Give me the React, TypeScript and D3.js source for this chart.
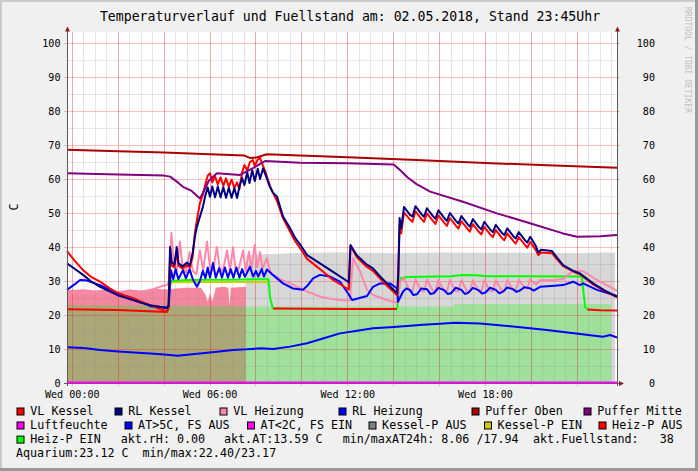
import React from "react";
import * as d3 from "d3";

type Pt = [number, number];

// time in hours from Wed 00:00, value in C
const pufferOben: Pt[] = [
  [-0.23, 68.6], [2, 68.2], [4, 67.8], [6, 67.3], [7.5, 66.9], [7.74, 66.2], [8.0, 66.3],
  [8.3, 66.9], [8.48, 67.3], [9.92, 66.9], [12, 66.4], [15, 65.6], [18, 64.7], [21, 64.0], [23.73, 63.3],
];

const pufferMitte: Pt[] = [
  [-0.23, 61.7], [2, 61.3], [4, 61.0], [4.26, 60.7], [4.6, 59.0], [4.82, 57.7], [5.2, 56.5],
  [5.56, 54.3], [5.69, 55.9], [5.95, 59.5], [6.3, 61.7], [7.31, 61.2], [7.87, 63.2], [8.4, 65.3],
  [9.92, 64.8], [12, 64.6], [14.0, 64.3], [14.3, 62.5], [14.6, 60.5], [15.0, 58.5], [15.59, 56.3],
  [17.02, 53.3], [18.5, 49.9], [19.94, 47.0], [21.38, 44.0], [21.99, 43.0], [23.0, 43.2], [23.73, 43.5],
];

const rlKessel: Pt[] = [
  [-0.23, 35.2], [0.1, 33.6], [0.47, 31.8], [0.8, 30.0], [1.21, 28.3], [1.6, 27.0], [1.95, 25.9],
  [2.3, 25.1], [2.64, 24.4], [3.0, 23.6], [3.39, 22.9], [3.8, 22.4], [4.13, 22.0], [4.2, 23.0],
  [4.26, 40.0], [4.33, 35.5], [4.45, 34.8], [4.55, 40.0], [4.63, 35.2], [4.8, 34.3], [5.0, 35.4],
  [5.12, 34.6], [5.24, 38.0], [5.34, 43.0], [5.43, 46.0], [5.56, 48.9], [5.69, 51.8], [5.8, 55.3],
  [5.9, 57.5], [6.0, 54.8], [6.1, 57.8], [6.22, 54.6], [6.34, 57.8], [6.46, 54.6], [6.58, 57.6],
  [6.7, 54.5], [6.82, 57.4], [6.94, 54.5], [7.06, 57.3], [7.18, 54.4], [7.28, 57.8], [7.4, 60.3],
  [7.5, 58.2], [7.62, 62.0], [7.72, 58.8], [7.84, 62.6], [7.95, 59.4], [8.08, 63.0], [8.18, 60.0],
  [8.31, 63.1], [8.42, 61.2], [8.61, 57.7], [8.74, 56.0], [8.92, 54.8], [9.18, 49.0], [9.49, 45.5],
  [9.7, 42.8], [9.92, 40.8], [10.23, 37.6], [10.79, 35.2], [11.36, 32.7], [11.97, 30.0], [12.05, 29.6],
  [12.12, 40.6], [12.4, 37.5], [12.8, 35.0], [13.1, 33.7], [13.4, 31.4], [13.71, 29.3], [14.15, 26.4],
  [14.2, 32.0], [14.26, 48.5], [14.33, 45.5], [14.45, 51.8], [14.72, 49.4], [14.82, 49.0], [14.95, 52.0],
  [15.22, 49.6], [15.32, 48.9], [15.45, 51.4], [15.72, 49.0], [15.82, 48.3], [15.95, 50.8], [16.22, 48.4],
  [16.32, 47.7], [16.45, 50.0], [16.72, 47.6], [16.82, 46.9], [16.95, 49.1], [17.22, 46.7], [17.32, 46.0],
  [17.45, 48.2], [17.72, 45.8], [17.82, 45.2], [17.95, 47.4], [18.22, 45.0], [18.32, 44.4], [18.45, 46.5],
  [18.72, 44.1], [18.82, 43.5], [18.95, 45.5], [19.22, 43.1], [19.32, 42.5], [19.45, 44.4], [19.72, 42.0],
  [19.82, 41.3], [19.95, 43.0], [20.2, 40.2], [20.3, 38.4], [20.42, 39.2], [20.9, 38.8], [21.1, 37.0],
  [21.38, 34.7], [21.82, 33.0], [22.12, 32.2], [22.69, 29.3], [23.2, 27.2], [23.73, 25.4],
];

const vlKessel: Pt[] = [
  [-0.23, 38.8], [0.1, 36.0], [0.47, 33.2], [0.8, 31.3], [1.21, 29.8], [1.6, 28.0], [1.95, 26.6],
  [2.3, 25.7], [2.64, 25.0], [3.0, 23.9], [3.39, 22.9], [3.8, 21.8], [4.13, 21.0], [4.2, 22.0],
  [4.26, 38.5], [4.33, 34.5], [4.45, 34.0], [4.55, 38.5], [4.63, 34.5], [4.8, 33.6], [5.0, 34.6],
  [5.12, 34.0], [5.24, 37.0], [5.34, 44.0], [5.43, 48.0], [5.56, 52.9], [5.69, 55.5], [5.8, 58.5],
  [5.9, 61.0], [6.0, 61.7], [6.1, 59.0], [6.22, 60.8], [6.34, 58.4], [6.46, 60.5], [6.58, 58.0],
  [6.7, 60.2], [6.82, 57.7], [6.94, 59.8], [7.06, 57.4], [7.18, 59.0], [7.28, 57.0], [7.4, 62.0],
  [7.5, 64.1], [7.62, 62.5], [7.74, 65.0], [7.87, 65.6], [7.95, 63.8], [8.08, 65.8], [8.18, 66.2],
  [8.3, 64.0], [8.42, 62.0], [8.61, 58.0], [8.74, 56.0], [8.92, 53.5], [9.18, 48.5], [9.49, 44.5],
  [9.7, 41.8], [9.92, 39.7], [10.23, 36.5], [10.79, 33.5], [11.36, 30.3], [11.97, 27.8], [12.05, 27.5],
  [12.12, 40.2], [12.4, 37.0], [12.8, 34.3], [13.1, 33.0], [13.4, 30.8], [13.71, 28.6], [14.15, 25.8],
  [14.2, 30.0], [14.26, 46.5], [14.33, 44.0], [14.45, 50.2], [14.72, 48.0], [14.82, 47.4], [14.95, 50.5],
  [15.22, 48.2], [15.32, 47.4], [15.45, 49.9], [15.72, 47.6], [15.82, 46.8], [15.95, 49.3], [16.22, 47.0],
  [16.32, 46.2], [16.45, 48.5], [16.72, 46.2], [16.82, 45.4], [16.95, 47.6], [17.22, 45.3], [17.32, 44.5],
  [17.45, 46.7], [17.72, 44.4], [17.82, 43.7], [17.95, 45.9], [18.22, 43.6], [18.32, 42.9], [18.45, 45.0],
  [18.72, 42.7], [18.82, 42.0], [18.95, 44.0], [19.22, 41.7], [19.32, 41.0], [19.45, 42.9], [19.72, 40.6],
  [19.82, 39.8], [19.95, 41.5], [20.2, 39.0], [20.3, 37.6], [20.42, 38.4], [20.9, 38.2], [21.1, 36.5],
  [21.38, 34.4], [21.82, 32.8], [22.12, 32.0], [22.69, 29.0], [23.2, 27.0], [23.73, 25.2],
];

const vlHeizung: Pt[] = [
  [-0.23, 26.6], [1.0, 26.5], [2.0, 26.3], [3.0, 26.6], [3.5, 27.5], [3.9, 28.5], [4.13, 28.8],
  [4.22, 30.0], [4.32, 44.2], [4.42, 35.0], [4.55, 33.0], [4.69, 41.6], [4.8, 34.0], [4.95, 32.5],
  [5.11, 38.5], [5.25, 33.0], [5.4, 32.0], [5.56, 39.0], [5.7, 33.0], [5.87, 41.6], [6.0, 34.0],
  [6.13, 33.0], [6.3, 40.0], [6.43, 33.5], [6.56, 33.0], [6.74, 39.0], [6.87, 33.0], [7.0, 40.0],
  [7.12, 33.0], [7.25, 33.5], [7.44, 39.0], [7.55, 33.0], [7.7, 38.6], [7.8, 33.5], [7.95, 40.6],
  [8.05, 34.0], [8.18, 38.5], [8.28, 33.5], [8.48, 36.8], [8.61, 33.0], [8.74, 31.8], [9.1, 30.4],
  [9.49, 29.3], [9.9, 28.0], [10.23, 26.9], [10.6, 25.9], [10.92, 25.2], [11.4, 24.6], [11.97, 24.2],
  [12.1, 24.5], [12.23, 36.7], [12.54, 32.7], [12.84, 27.4], [13.1, 25.9], [13.71, 24.4], [14.15, 23.6],
  [14.28, 29.8], [14.45, 30.9], [14.7, 27.0], [14.82, 26.9], [14.95, 30.5], [15.2, 27.2], [15.32, 26.9],
  [15.45, 30.4], [15.7, 27.2], [15.82, 26.9], [15.95, 30.3], [16.2, 27.1], [16.32, 26.9], [16.45, 30.3],
  [16.7, 27.0], [16.82, 26.9], [16.95, 30.2], [17.2, 27.0], [17.32, 26.9], [17.45, 30.2], [17.7, 27.0],
  [17.82, 26.9], [17.95, 30.2], [18.2, 27.1], [18.32, 27.0], [18.45, 30.3], [18.7, 27.2], [18.82, 27.0],
  [18.95, 30.3], [19.2, 27.4], [19.32, 27.2], [19.45, 30.4], [19.7, 28.0], [19.82, 27.8], [19.95, 30.5],
  [20.2, 29.0], [20.4, 30.3], [20.9, 30.2], [21.38, 30.6], [21.82, 33.0], [22.25, 32.9], [22.86, 30.3],
  [23.43, 28.3], [23.73, 27.1],
];

const rlHeizung: Pt[] = [
  [-0.23, 27.4], [0.1, 29.0], [0.34, 30.3], [0.6, 30.2], [1.21, 28.8], [1.95, 26.4], [2.64, 24.9],
  [3.39, 22.6], [4.13, 22.2], [4.2, 22.5], [4.3, 33.2], [4.4, 30.5], [4.5, 33.5], [4.62, 30.5],
  [4.82, 33.2], [4.95, 30.8], [5.11, 33.5], [5.25, 30.5], [5.43, 28.3], [5.56, 30.0], [5.69, 33.0],
  [5.8, 30.8], [5.9, 34.0], [6.0, 31.0], [6.13, 35.3], [6.25, 31.0], [6.4, 33.8], [6.52, 31.0],
  [6.65, 34.0], [6.78, 31.0], [6.9, 33.5], [7.02, 31.0], [7.15, 34.0], [7.28, 31.0], [7.4, 33.5],
  [7.52, 31.2], [7.74, 34.2], [7.88, 31.3], [8.0, 33.0], [8.1, 31.3], [8.25, 33.5], [8.35, 31.3],
  [8.48, 33.4], [8.74, 31.8], [9.18, 29.3], [9.62, 27.8], [10.05, 27.4], [10.23, 28.5], [10.49, 30.8],
  [10.79, 31.8], [11.23, 31.3], [11.66, 29.8], [12.01, 26.4], [12.19, 24.4], [12.84, 25.6], [13.1, 28.3],
  [13.41, 29.3], [13.84, 29.3], [14.15, 27.8], [14.19, 23.9], [14.41, 26.9], [14.55, 27.8], [14.71, 27.4],
  [14.85, 25.9], [15.02, 26.1], [15.2, 27.8], [15.45, 27.6], [15.6, 26.2], [15.75, 26.4], [15.95, 28.0],
  [16.2, 27.3], [16.35, 26.2], [16.5, 26.4], [16.7, 28.0], [16.95, 27.4], [17.1, 26.2], [17.25, 26.5],
  [17.45, 28.0], [17.7, 27.3], [17.85, 26.3], [18.0, 26.6], [18.2, 28.0], [18.45, 27.4], [18.6, 26.4],
  [18.75, 26.8], [18.95, 28.1], [19.2, 27.6], [19.35, 26.8], [19.5, 27.2], [19.7, 28.2], [19.95, 27.8],
  [20.1, 27.2], [20.38, 28.3], [21.0, 28.6], [21.38, 28.8], [21.82, 29.8], [22.12, 28.8], [22.25, 29.3],
  [22.86, 27.4], [23.73, 25.6],
];

const aussenTemp: Pt[] = [
  [-0.23, 10.5], [0.5, 10.3], [1.21, 9.7], [2, 9.3], [3.39, 8.7], [4.0, 8.4], [4.6, 8.0], [5.0, 8.3],
  [5.56, 8.7], [6.3, 9.2], [7.0, 9.7], [7.6, 9.9], [8.2, 10.2], [8.74, 10.0], [9.49, 10.7], [10.23, 11.7],
  [10.92, 13.1], [11.66, 14.6], [12.41, 15.4], [13.1, 16.1], [13.84, 16.4], [14.59, 16.8], [15.28, 17.1],
  [16.02, 17.4], [16.68, 17.7], [17.76, 17.5], [19.2, 16.6], [20.68, 15.6], [22.12, 14.4], [23.12, 13.6],
  [23.43, 14.1], [23.73, 13.4],
];

const luftfeuchte: Pt[] = [[-0.23, 0], [23.73, 0]];

const heizPEin1: Pt[] = [
  [4.15, 21.0], [4.22, 27.0], [4.3, 30.0], [5, 30.3], [6, 30.4], [7, 30.4], [8, 30.5], [8.55, 30.5],
  [8.62, 25.0], [8.74, 22.0],
];
const heizPEin2: Pt[] = [
  [14.15, 21.8], [14.22, 27.0], [14.3, 30.8], [14.6, 31.2], [16.5, 31.4], [17, 31.8], [17.6, 31.7],
  [18, 31.4], [20, 31.4], [22.2, 31.3], [22.28, 26.0], [22.35, 22.2], [22.43, 21.8],
];
const heizPAus1: Pt[] = [[-0.23, 21.7], [2, 21.5], [4.15, 20.9]];
const heizPAus2: Pt[] = [[8.74, 21.9], [12, 21.8], [14.15, 21.8]];
const heizPAus3: Pt[] = [[22.43, 21.6], [23, 21.4], [23.73, 21.3]];
const kesselPEin1: Pt[] = [[4.3, 29.6], [6, 29.7], [8.55, 29.7]];

// filled areas
const pinkArea: Pt[] = [
  [-0.23, 27.3], [0.5, 27.6], [1, 27.2], [1.5, 27.5], [2, 27.0], [2.5, 27.5], [3, 27.2], [3.5, 27.8],
  [4.0, 27.5], [4.5, 27.8], [5, 28.0], [5.6, 28.0], [5.8, 26.0], [5.9, 24.0], [6.0, 26.5], [6.1, 24.0],
  [6.25, 28.0], [6.6, 28.3], [6.8, 28.0], [6.85, 22.5], [6.9, 28.0], [7.57, 28.3],
];
const oliveArea: Pt[] = [[-0.23, 22.9], [3, 22.8], [6.5, 22.7], [7.57, 22.6]];
const grayArea: Pt[] = [
  [7.57, 37.5], [8, 37.8], [9, 38.0], [10, 38.3], [12, 38.4], [14, 38.2], [16, 38.4], [18, 38.3],
  [20, 38.3], [22, 38.2], [23, 38.4], [23.65, 38.3],
];
const greenArea: Pt[] = [[7.57, 22.5], [12, 22.5], [16.6, 22.5], [16.65, 23.2], [20, 23.2], [23.47, 23.2]];

const yTicks = [0, 10, 20, 30, 40, 50, 60, 70, 80, 90, 100];
const yMinorTicks = [5, 15, 25, 35, 45, 55, 65, 75, 85, 95];
const xLabelHours = [0, 6, 12, 18];
const xLabels = ["Wed 00:00", "Wed 06:00", "Wed 12:00", "Wed 18:00"];

const legendRow1 = ["VL Kessel", "RL Kessel", "VL Heizung", "RL Heizung", "Puffer Oben", "Puffer Mitte"];
const legendRow1Colors = ["#ff0000", "#000080", "#ff88aa", "#0000ff", "#aa0000", "#800080"];
const legendRow2 = ["Luftfeuchte", "AT>5C, FS AUS", "AT<2C, FS EIN", "Kessel-P AUS", "Kessel-P EIN", "Heiz-P AUS"];
const legendRow2Colors = ["#ff00ff", "#0000ff", "#ff00ff", "#808080", "#cccc00", "#ff0000"];
const legendRow3 = ["Heiz-P EIN"];
const legendRow3Colors = ["#00ff00"];
const statusRow3 = ["akt.rH: 0.00", "akt.AT:13.59 C", "min/maxAT24h: 8.06 /17.94", "akt.Fuellstand:   38"];
const statusRow4 = ["Aquarium:23.12 C", "min/max:22.40/23.17"];

const W = 698;
const H = 471;
const FONT = "'DejaVu Sans Mono', monospace";

export default function App() {
  const x = d3.scaleLinear().domain([-0.23, 23.73]).range([67, 617]);
  const y = d3.scaleLinear().domain([0, 103.3]).range([383, 31.8]);

  const line = d3.line<Pt>().x((d) => x(d[0])).y((d) => y(d[1]));
  const area = d3.area<Pt>().x((d) => x(d[0])).y0(y(0)).y1((d) => y(d[1]));

  const xMinor = d3.range(0, 23.75, 0.5);
  const xMajor = d3.range(0, 23.75, 2);

  const lines: { data: Pt[]; color: string; w?: number }[] = [
    { data: kesselPEin1, color: "#cccc00" },
    { data: heizPAus1, color: "#ff0000" },
    { data: heizPAus2, color: "#ff0000" },
    { data: heizPAus3, color: "#ff0000" },
    { data: heizPEin1, color: "#00ff00" },
    { data: heizPEin2, color: "#00ff00" },
    { data: vlHeizung, color: "#ff88aa" },
    { data: rlHeizung, color: "#0000ff" },
    { data: vlKessel, color: "#ff0000" },
    { data: rlKessel, color: "#000080" },
    { data: pufferOben, color: "#aa0000" },
    { data: pufferMitte, color: "#800080" },
    { data: aussenTemp, color: "#0000ff" },
    { data: luftfeuchte, color: "#ff00ff" },
  ];

  const row1X = [16.5, 114.5, 219.5, 338.5, 471.5, 583.5];
  const row2X = [16.5, 124.5, 247, 368.5, 484, 598.5];
  const row3X = [120.7, 224, 342.7, 533];
  const rowBase = [415.3, 429.3, 443.4, 457.2];

  const square = (sx: number, base: number, color: string, key: string) => (
    <rect key={key} x={sx + 0.5} y={base - 7.3} width={7} height={7} fill={color} stroke="#000" strokeWidth={1} />
  );

  return (
    <svg
      width={W}
      height={H}
      style={{ position: "absolute", left: 0, top: 0, fontFamily: FONT }}
    >
      <rect x={0} y={0} width={W} height={H} fill="#f0f0f0" />
      <rect x={0} y={0} width={W} height={2} fill="#cbcbcb" />
      <rect x={0} y={0} width={2} height={H} fill="#cbcbcb" />
      <rect x={0} y={H - 3} width={W} height={3} fill="#999999" />
      <rect x={W - 3} y={0} width={3} height={H} fill="#999999" />

      <text x={350} y={21} textAnchor="middle" fontSize={13.2} fill="#000">
        Temperaturverlauf und Fuellstand am: 02.05.2018, Stand 23:45Uhr
      </text>
      <text transform="translate(685,7) rotate(90)" fontSize={8} fill="#c0c0c0">
        RRDTOOL / TOBI OETIKER
      </text>
      <text transform="translate(18,207) rotate(-90)" textAnchor="middle" fontSize={11.7} fill="#000">
        C
      </text>

      <rect x={67} y={31.8} width={550} height={383 - 31.8} fill="#ffffff" />

      <path d={area(pinkArea) ?? ""} fill="#f4879f" />
      <path d={area(grayArea) ?? ""} fill="#d7d7d7" />
      <path d={area(oliveArea) ?? ""} fill="#aba878" />
      <path d={area(greenArea) ?? ""} fill="#9fe19a" />

      <g shapeRendering="crispEdges">
        {xMinor.map((h) => (
          <line key={"xm" + h} x1={x(h)} x2={x(h)} y1={31.8} y2={383} stroke="rgba(140,140,140,0.22)" />
        ))}
        {yMinorTicks.map((v) => (
          <line key={"ym" + v} x1={67} x2={617} y1={y(v)} y2={y(v)} stroke="rgba(140,140,140,0.22)" />
        ))}
        {xMajor.map((h) => (
          <line key={"xM" + h} x1={x(h)} x2={x(h)} y1={31.8} y2={386} stroke="rgba(255,0,0,0.26)" />
        ))}
        {yTicks.slice(1).map((v) => (
          <line key={"yM" + v} x1={64} x2={620} y1={y(v)} y2={y(v)} stroke="rgba(255,0,0,0.26)" />
        ))}
      </g>

      {lines.map((l, i) => (
        <path
          key={"l" + i}
          d={line(l.data) ?? ""}
          fill="none"
          stroke={l.color}
          strokeWidth={l.w ?? 2}
          strokeLinejoin="round"
        />
      ))}

      <g shapeRendering="crispEdges">
        <line x1={67.5} x2={67.5} y1={28} y2={386} stroke="#5a5a5a" />
        <line x1={617.5} x2={617.5} y1={28} y2={386} stroke="#5a5a5a" />
        <line x1={64} x2={620} y1={383.5} y2={383.5} stroke="#5a5a5a" />
      </g>
      <path d={`M ${x(-0.23)} ${y(0) - 0.5} L ${x(23.73)} ${y(0) - 0.5}`} stroke="#ff00ff" strokeWidth={2} />
      <path d="M67.5,26.5 L65,31.5 L70,31.5 Z" fill="#8b1c1c" />
      <path d="M617.5,26.5 L615,31.5 L620,31.5 Z" fill="#8b1c1c" />
      <path d="M624,383.5 L619,381 L619,386 Z" fill="#8b1c1c" />

      {yTicks.map((v) => (
        <g key={"yl" + v} fontSize={10.1} fill="#000">
          <text x={60.5} y={y(v) + 3.7} textAnchor="end">{v}</text>
          <text x={655} y={y(v) + 3.7} textAnchor="end">{v}</text>
        </g>
      ))}
      {xLabelHours.map((h, i) => (
        <text key={"xl" + h} x={x(h)} y={397.8} textAnchor="middle" fontSize={10.1} fill="#000">
          {xLabels[i]}
        </text>
      ))}

      <g fontSize={11.7} fill="#000">
        {legendRow1.map((t, i) => (
          <g key={"r1" + i}>
            {square(row1X[i], rowBase[0], legendRow1Colors[i], "s1" + i)}
            <text x={row1X[i] + 13.8} y={rowBase[0]}>{t}</text>
          </g>
        ))}
        {legendRow2.map((t, i) => (
          <g key={"r2" + i}>
            {square(row2X[i], rowBase[1], legendRow2Colors[i], "s2" + i)}
            <text x={row2X[i] + 13.6} y={rowBase[1]}>{t}</text>
          </g>
        ))}
        {legendRow3.map((t, i) => (
          <g key={"r3" + i}>
            {square(16.5, rowBase[2], legendRow3Colors[i], "s3" + i)}
            <text x={30.3} y={rowBase[2]}>{t}</text>
          </g>
        ))}
        {statusRow3.map((t, i) => (
          <text key={"st3" + i} x={row3X[i]} y={rowBase[2]} xmlSpace="preserve" style={{ whiteSpace: "pre" }}>
            {t}
          </text>
        ))}
        <text x={16} y={rowBase[3]}>{statusRow4[0]}</text>
        <text x={142.5} y={rowBase[3]}>{statusRow4[1]}</text>
      </g>
    </svg>
  );
}
